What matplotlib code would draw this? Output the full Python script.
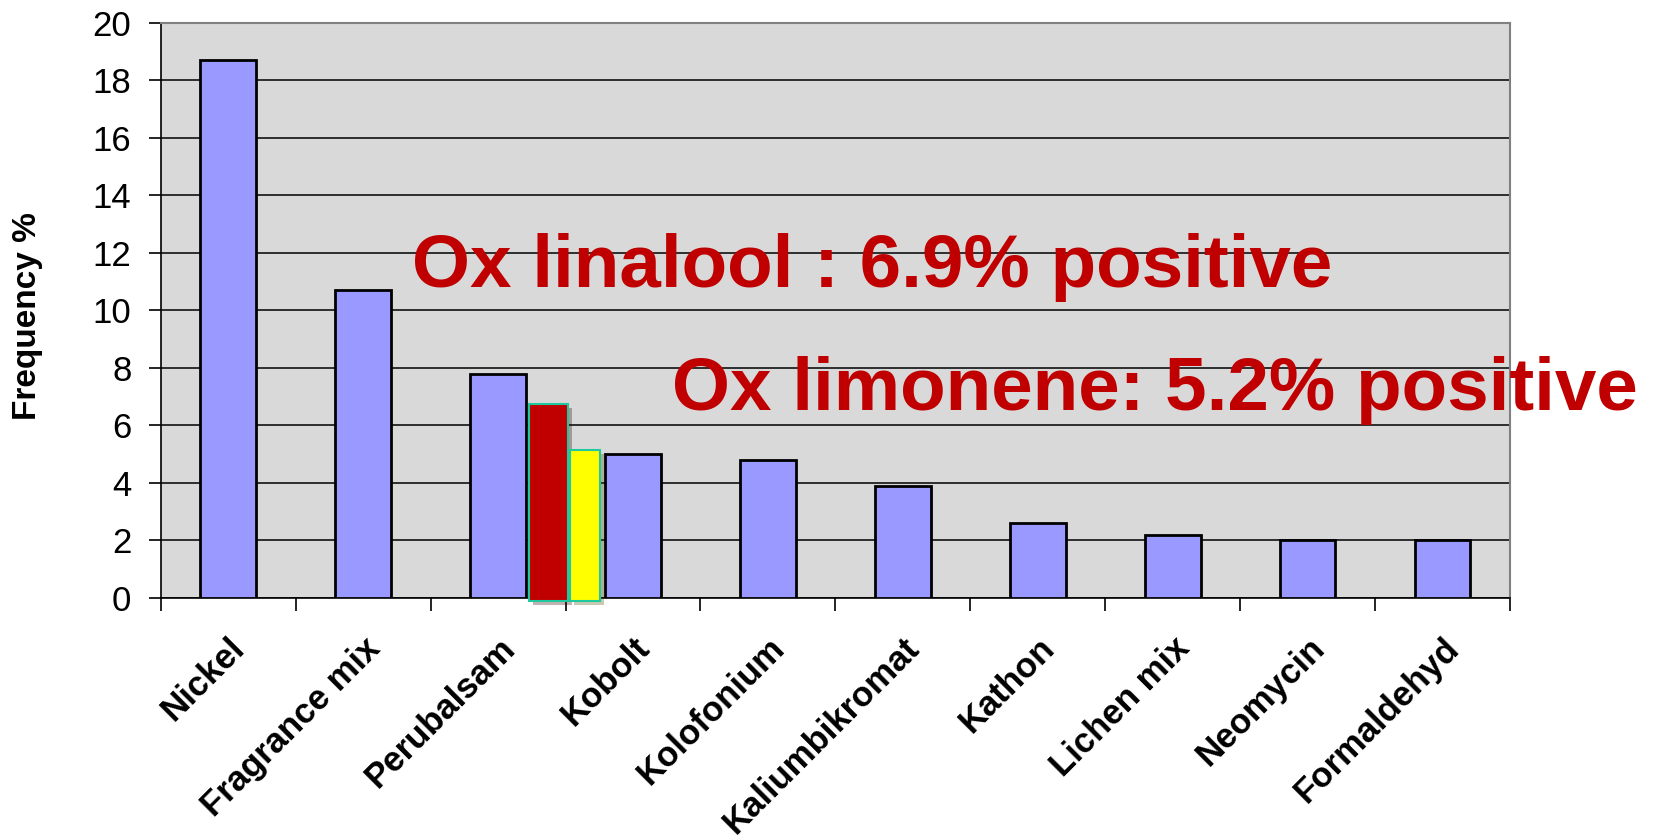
import matplotlib
matplotlib.use("Agg")
import matplotlib.pyplot as plt
import matplotlib.patheffects as pe
import numpy as np

plt.rcParams['font.family'] = ['Liberation Sans', 'DejaVu Sans']

# data
allergens = ['Nickel', 'Fragrance mix', 'Perubalsam', 'Kobolt', 'Kolofonium',
             'Kaliumbikromat', 'Kathon', 'Lichen mix', 'Neomycin', 'Formaldehyd']
frequency = [18.7, 10.7, 7.8, 5.0, 4.8, 3.9, 2.6, 2.2, 2.0, 2.0]

# oxidised terpenes squeezed in between Perubalsam and Kobolt
ox_names = ['Ox linalool', 'Ox limonene']
ox_percent = [6.9, 5.2]
ox_bar_tops = [6.75, 5.15]   # where the hand-drawn bars actually end
ox_colors = ['#C00000', '#FFFF00']

y_ticks = [0, 2, 4, 6, 8, 10, 12, 14, 16, 18, 20]

fig = plt.figure(figsize=(16.56, 8.38), dpi=100)
ax = fig.add_axes([0.097, 0.2864, 0.815, 0.6862])
ax.set_facecolor('#D9D9D9')

x = np.arange(len(allergens)) + 0.5
ax.bar(x, frequency, width=0.41, color='#9999FF', edgecolor='black',
       linewidth=2, zorder=3)

# the two overlay bars, drawn a bit below zero like in the slide
ox_left = [2.73, 3.03]
ox_width = [0.29, 0.225]
shadow = [pe.SimplePatchShadow(offset=(3, -3), alpha=0.3), pe.Normal()]
for i in range(len(ox_bar_tops)):
    ax.bar(ox_left[i], ox_bar_tops[i] + 0.1, bottom=-0.1, width=ox_width[i],
           align='edge', color=ox_colors[i], edgecolor='#20C8A0',
           linewidth=1.5, zorder=4, clip_on=False, path_effects=shadow)

ax.set_xlim(0, len(allergens))
ax.set_ylim(0, 20)
ax.set_yticks(y_ticks)
ax.yaxis.grid(True, color='#202020', linewidth=1.3, zorder=1)
ax.set_axisbelow(True)

# tick marks at category borders, labels at centres
ax.set_xticks(np.arange(len(allergens) + 1))
ax.set_xticklabels([])
ax.set_xticks(x, minor=True)
ax.set_xticklabels(allergens, minor=True, rotation=45, ha='right',
                   rotation_mode='anchor', fontsize=25, fontweight='bold')
ax.tick_params(axis='x', which='minor', length=0, pad=24)
ax.tick_params(axis='x', which='major', length=9, width=1.2, direction='out')
ax.tick_params(axis='y', length=9, width=1.2, labelsize=25, pad=12)

for s in ['top', 'right']:
    ax.spines[s].set_color('#808080')
    ax.spines[s].set_linewidth(1.5)
for s in ['left', 'bottom']:
    ax.spines[s].set_color('black')
    ax.spines[s].set_linewidth(1.2)

ax.set_ylabel('Frequency %', fontsize=24, fontweight='bold')
ax.yaxis.set_label_coords(-0.087, 0.49)

ax.text(1.86, 10.8, ox_names[0] + ' : ' + str(ox_percent[0]) + '% positive',
        color='#C00000', fontsize=53.7, fontweight='bold', va='baseline', zorder=6)
ax.text(3.79, 6.55, ox_names[1] + ': ' + str(ox_percent[1]) + '% positive',
        color='#C00000', fontsize=53.7, fontweight='bold', va='baseline',
        clip_on=False, zorder=6)

fig.savefig('out.png', dpi=100)
